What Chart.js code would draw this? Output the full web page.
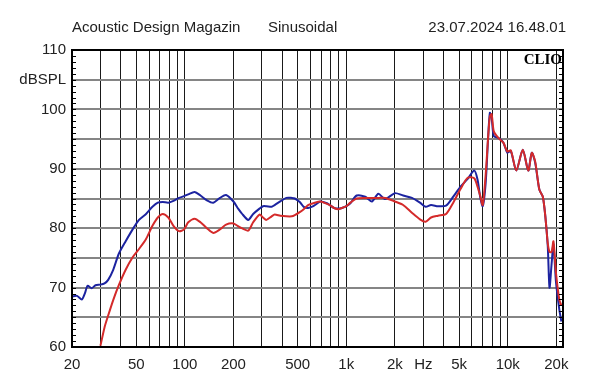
<!DOCTYPE html>
<html>
<head>
<meta charset="utf-8">
<script src="https://cdn.jsdelivr.net/npm/chart.js@4/dist/chart.umd.min.js"></script>
<style>
  html, body { margin: 0; padding: 0; background: #fff; }
  #wrap { width: 600px; height: 384px; position: relative; }
</style>
</head>
<body>
<div id="wrap"><canvas id="fr_graph"></canvas></div>
<script>
// Frequency points (Hz)
const freqs = [20, 21.5, 23, 24, 25, 26.5, 28, 30, 31.8, 33.5, 36, 39, 43, 47.5, 52, 57.5, 63, 68, 73, 79,
  85, 92, 99, 105, 115, 125, 137, 150, 165, 180, 200, 215, 225, 247, 265, 290, 305, 320, 345, 360,
  390, 425, 460, 480, 515, 545, 580, 625, 690, 760, 800, 840, 890, 940, 1000, 1060, 1160, 1310, 1440, 1580,
  1740, 2000, 2250, 2550, 2860, 3100, 3350, 3700, 4150, 4600, 5100, 5650, 6200, 6500, 6750, 7000, 7300, 7550, 7750, 7950,
  8200, 8750, 9400, 9950, 10450, 11300, 12400, 13400, 14100, 14800, 15700, 16500, 17100, 17700, 18150, 18700, 19200, 19900, 20900, 21500];

// Blue curve (dBSPL)
const blueCurve = [68.5, 68.6, 68.0, 69.0, 70.3, 69.9, 70.4, 70.5, 70.7, 71.3, 73.0, 75.7, 77.8, 79.8, 81.4, 82.4, 83.6, 84.3, 84.4, 84.3,
  84.6, 85.1, 85.4, 85.7, 86.1, 85.5, 84.7, 84.3, 85.1, 85.6, 84.5, 83.2, 82.5, 81.4, 82.4, 83.3, 83.7, 83.7, 83.6, 83.9,
  84.5, 85.1, 85.1, 85.0, 84.4, 83.6, 83.4, 83.7, 84.5, 84.2, 83.8, 83.4, 83.3, 83.4, 83.7, 84.2, 85.5, 85.3, 84.5, 85.8,
  84.9, 85.9, 85.5, 85.1, 84.3, 83.6, 83.9, 83.7, 83.8, 85.3, 87.0, 88.3, 89.7, 88.2, 85.3, 83.7, 87.6, 94.9, 99.4, 98.6,
  95.5, 95.2, 94.4, 92.7, 93.0, 89.7, 93.2, 89.7, 92.7, 91.0, 86.5, 85.3, 82.0, 77.0, 70.0, 74.0, 77.3, 71.0, 66.2, 64.3];

// Red curve (dBSPL), starts at 30 Hz
const redCurve = [null, null, null, null, null, null, null, 60.2, 63.3, 65.3, 67.9, 70.4, 73.0, 75.1, 76.5, 78.2, 80.4, 81.8, 82.4, 81.8,
  80.4, 79.5, 79.8, 81.0, 81.6, 81.0, 80.0, 79.2, 79.8, 80.6, 80.8, 80.3, 80.0, 79.6, 81.0, 82.3, 81.8, 81.4, 82.0, 82.3,
  82.1, 82.0, 82.0, 82.2, 82.7, 83.2, 83.9, 84.2, 84.5, 84.1, 83.8, 83.4, 83.2, 83.4, 83.7, 84.3, 85.0, 85.1, 85.1, 85.1,
  85.1, 84.5, 83.9, 82.6, 81.5, 81.1, 81.8, 82.1, 82.4, 84.3, 86.6, 88.5, 88.4, 87.0, 85.5, 83.9, 89.0, 95.0, 98.8, 99.2,
  96.3, 95.2, 94.4, 92.9, 93.1, 89.7, 93.2, 89.7, 92.7, 91.2, 86.5, 85.3, 82.0, 77.5, 76.0, 76.0, 77.8, 72.5, 67.9, 67.0];

// Vertical grid positions and their labels
const xGrid = [20, 30, 40, 50, 60, 70, 80, 90, 100, 200, 300, 400, 500, 600, 700, 800, 900,
  1000, 2000, 3000, 4000, 5000, 6000, 7000, 8000, 9000, 10000, 20000];
const xLabels = { 20: "20", 50: "50", 100: "100", 200: "200", 500: "500", 1000: "1k", 2000: "2k",
  3000: "Hz", 5000: "5k", 10000: "10k", 20000: "20k" };

const FONT = "'Liberation Sans', Arial, sans-serif";

const toPoints = (vals) => freqs.map((f, i) => ({ x: f, y: vals[i] }));

// header texts, frame, minor ticks and the CLIO mark
const decor = {
  id: "decor",
  afterDatasetsDraw(chart) {
    const { ctx, chartArea: a, scales } = chart;
    ctx.save();
    // minor ticks every dB
    ctx.strokeStyle = "#000";
    ctx.lineWidth = 1;
    ctx.beginPath();
    for (let v = 60; v <= 110; v++) {
      const y = Math.round(scales.y.getPixelForValue(v)) + 0.5;
      ctx.moveTo(a.left, y);
      ctx.lineTo(a.left + 4, y);
      ctx.moveTo(a.right, y);
      ctx.lineTo(a.right - 4, y);
    }
    ctx.stroke();
    // frame
    ctx.lineWidth = 2;
    ctx.strokeRect(a.left, a.top, a.right - a.left, a.bottom - a.top);

    // header
    ctx.fillStyle = "#222";
    ctx.font = "15px " + FONT;
    ctx.textBaseline = "alphabetic";
    ctx.textAlign = "left";
    ctx.fillText("Acoustic Design Magazin", 72, 32);
    ctx.fillText("Sinusoidal", 268, 32);
    ctx.textAlign = "right";
    ctx.fillText("23.07.2024 16.48.01", 566, 32);

    // CLIO
    ctx.fillStyle = "#000";
    ctx.font = "bold 15px 'Liberation Serif', 'DejaVu Serif', serif";
    ctx.fillText("CLIO", a.right - 1, 64);
    ctx.restore();
  },
};

new Chart(document.getElementById("fr_graph"), {
  type: "line",
  data: {
    datasets: [
      {
        label: "red",
        data: toPoints(redCurve),
        borderColor: "#d42a2a",
        borderWidth: 2,
        pointRadius: 0,
        tension: 0.25,
        order: 0,
      },
      {
        label: "blue",
        data: toPoints(blueCurve),
        borderColor: "#1c23a0",
        borderWidth: 2,
        pointRadius: 0,
        tension: 0.25,
        order: 1,
      },
    ],
  },
  options: {
    responsive: true,
    maintainAspectRatio: false,
    animation: false,
    layout: { padding: { top: 50, right: 37, left: 0, bottom: 0 } },
    plugins: {
      legend: { display: false },
      tooltip: { enabled: false },
    },
    scales: {
      x: {
        type: "logarithmic",
        min: 20,
        max: 22000,
        afterBuildTicks: (scale) => {
          scale.ticks = xGrid.map((v) => ({ value: v }));
        },
        afterFit: (scale) => {
          scale.height = 37;
        },
        border: { display: false },
        grid: { color: "#1a1a1a", lineWidth: 1, drawTicks: false },
        ticks: {
          autoSkip: false,
          maxRotation: 0,
          padding: 9,
          color: "#222",
          font: { family: FONT, size: 15 },
          callback: (v) => xLabels[v] || "",
        },
      },
      y: {
        min: 60,
        max: 110,
        afterFit: (scale) => {
          scale.width = 72;
        },
        border: { display: false },
        grid: { color: "#858585", lineWidth: 2, drawTicks: false },
        ticks: {
          stepSize: 5,
          padding: 6,
          color: "#222",
          font: { family: FONT, size: 15 },
          callback: (v) => (v === 105 ? "dBSPL" : v % 10 === 0 ? String(v) : ""),
        },
      },
    },
  },
  plugins: [decor],
});
</script>
</body>
</html>
